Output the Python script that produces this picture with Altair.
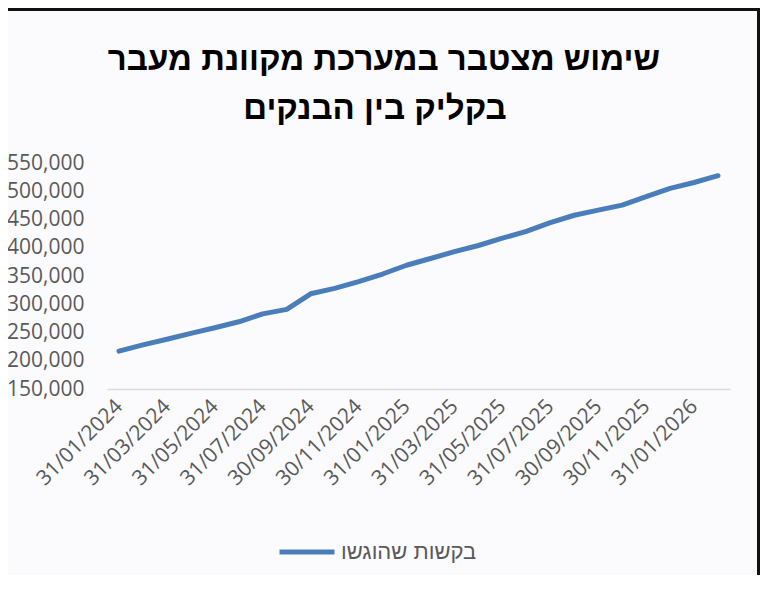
import altair as alt
import pandas as pd

dates = ["31/01/2024", "29/02/2024", "31/03/2024", "30/04/2024", "31/05/2024", "30/06/2024",
         "31/07/2024", "31/08/2024", "30/09/2024", "31/10/2024", "30/11/2024", "31/12/2024",
         "31/01/2025", "28/02/2025", "31/03/2025", "30/04/2025", "31/05/2025", "30/06/2025",
         "31/07/2025", "31/08/2025", "30/09/2025", "31/10/2025", "30/11/2025", "31/12/2025",
         "31/01/2026", "28/02/2026"]
requests = [217000, 228000, 238000, 248500, 258500, 269000,
            283000, 291000, 318500, 328000, 340000, 353500,
            369000, 381000, 393000, 404000, 417000, 429000,
            444500, 457500, 466500, 475500, 490500, 505000,
            515500, 527500]
tick_labels = ["31/01/2024", "31/03/2024", "31/05/2024", "31/07/2024", "30/09/2024",
               "30/11/2024", "31/01/2025", "31/03/2025", "31/05/2025", "31/07/2025",
               "30/09/2025", "30/11/2025", "31/01/2026"]
y_ticks = [150000, 200000, 250000, 300000, 350000, 400000, 450000, 500000, 550000]
series_name = "בקשות שהוגשו"
title_line1 = "שימוש מצטבר במערכת מקוונת מעבר"
title_line2 = "בקליק בין הבנקים"

df = pd.DataFrame({"date": dates, "value": requests, "series": series_name})

BLUE = "#4a7ebb"
GRAY = "#595959"
W, H = 623, 226
PL, PT, PR, PB = 99, 155, 30, 186

line = alt.Chart(df).mark_line(strokeWidth=5, strokeCap="round", strokeJoin="round").encode(
    x=alt.X("date:O", sort=dates,
            scale=alt.Scale(type="point", padding=0.5),
            axis=alt.Axis(title=None, values=tick_labels, labelAngle=-45, labelAlign="right",
                          labelBaseline="middle", labelFontSize=21, labelFont="Open Sans",
                          labelColor=GRAY, labelPadding=14, ticks=False, domain=True,
                          domainColor="#d9d9d9", domainWidth=1.5, grid=False,
                          labelOverlap=False)),
    y=alt.Y("value:Q", scale=alt.Scale(domain=[150000, 550000], nice=False, zero=False),
            axis=alt.Axis(title=None, values=y_ticks, format=",d", labelFontSize=21,
                          labelFont="Open Sans", labelColor=GRAY, labelPadding=23,
                          ticks=False, domain=False, grid=False)),
    color=alt.Color("series:N", scale=alt.Scale(range=[BLUE]),
                    legend=alt.Legend(title=None, orient="none", legendX=170, legendY=359,
                                      symbolType="stroke", symbolSize=3025,
                                      symbolStrokeWidth=5, labelFontSize=22,
                                      labelFont="Liberation Sans", labelColor=GRAY,
                                      labelOffset=4, padding=0)),
)

frame_df = pd.DataFrame({"k": [0]})
top_border = alt.Chart(frame_df).mark_rule(color="#111111", strokeWidth=3).encode(
    x=alt.value(-PL), x2=alt.value(W + PR), y=alt.value(-PT + 1.5))
right_border = alt.Chart(frame_df).mark_rule(color="#111111", strokeWidth=3).encode(
    x=alt.value(W + PR - 1.5), y=alt.value(-PT), y2=alt.value(H + PB))

title1 = alt.Chart(frame_df).mark_text(
    font="Liberation Sans", fontSize=33, fontWeight="bold", color="#000000",
    align="center", baseline="middle").encode(
    x=alt.value(277), y=alt.value(-103), text=alt.value(title_line1))
title2 = alt.Chart(frame_df).mark_text(
    font="Liberation Sans", fontSize=33, fontWeight="bold", color="#000000",
    align="center", baseline="middle").encode(
    x=alt.value(268), y=alt.value(-54), text=alt.value(title_line2))

chart = alt.layer(line, top_border, right_border, title1, title2).properties(
    width=W, height=H,
    padding={"left": PL, "top": PT, "right": PR, "bottom": PB},
    autosize=alt.AutoSizeParams(type="none"),
    background="#fbfbfd",
).configure_view(stroke=None)

chart.save("out.html", embed_options={"renderer": "svg", "actions": False})
